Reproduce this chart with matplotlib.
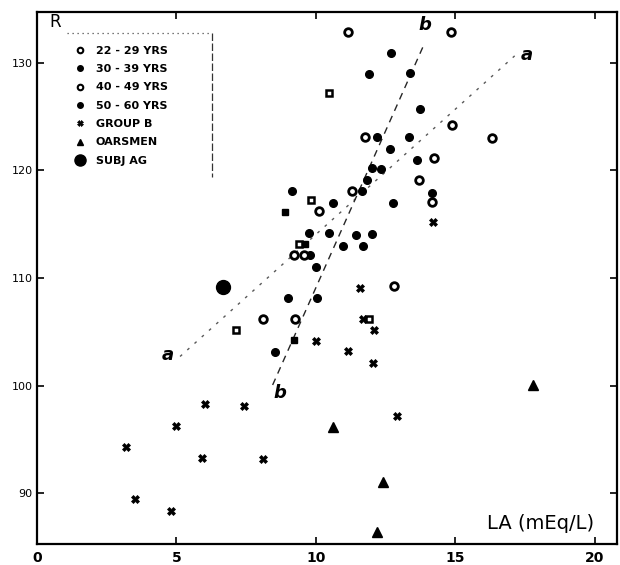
import matplotlib
matplotlib.use("Agg")
import matplotlib.pyplot as plt
from matplotlib.lines import Line2D

# values (LA in mEq/L, R)
age22_x = [10.48, 9.82, 9.40, 11.91, 7.12]
age22_y = [127.2, 117.3, 113.2, 106.2, 105.2]

age30_x = [12.71, 11.91, 13.37, 13.75, 12.18, 13.34, 12.65, 13.63, 12.00, 12.35,
           11.82, 14.15, 9.13, 11.64, 10.62, 12.75, 9.75, 10.47, 11.43, 12.03,
           10.98, 11.70, 9.78, 10.00, 9.01, 10.03, 8.54]
age30_y = [130.9, 129.0, 129.1, 125.7, 123.1, 123.1, 122.0, 121.0, 120.2, 120.1,
           119.1, 117.9, 118.1, 118.1, 117.0, 117.0, 114.2, 114.2, 114.0, 114.1,
           113.0, 113.0, 112.1, 111.05, 108.1, 108.1, 103.1]

age40_x = [11.16, 14.83, 14.90, 16.30, 11.76, 14.23, 13.70, 11.28, 10.11, 9.21,
           9.57, 12.82, 8.09, 9.27, 14.16]
age40_y = [132.9, 132.9, 124.2, 123.05, 123.1, 121.2, 119.1, 118.1, 116.2, 112.1,
           112.1, 109.3, 106.2, 106.2, 117.1]

age50_x = [8.91, 9.61, 9.21]
age50_y = [116.1, 113.2, 104.2]

groupb_x = [11.58, 11.70, 12.09, 10.00, 11.16, 12.05, 6.02, 7.43, 12.91, 4.98,
            3.19, 5.90, 8.11, 3.51, 4.79, 14.19]
groupb_y = [109.1, 106.2, 105.2, 104.1, 103.2, 102.1, 98.3, 98.1, 97.2, 96.2,
            94.3, 93.3, 93.2, 89.4, 88.3, 115.2]

oars_x = [10.60, 12.41, 12.21, 17.77]
oars_y = [96.1, 91.05, 86.35, 100.05]

subj_x = [6.67]
subj_y = [109.2]

# the two regression lines
line_a_x = [5.13, 17.13]
line_a_y = [102.7, 130.66]
line_b_x = [8.45, 13.91]
line_b_y = [100.05, 131.9]

legend_labels = ["22 - 29 YRS", "30 - 39 YRS", "40 - 49 YRS", "50 - 60 YRS",
                 "GROUP B", "OARSMEN", "SUBJ AG"]

fig = plt.figure(figsize=(6.2, 5.65), dpi=100)
ax = fig.add_axes([37/620, 1-544/565, 580/620, 532/565])

# marker styles for each group
ring = dict(marker='o', ms=5.5, mfc='white', mec='black', mew=2.0, ls='none')
dot = dict(marker='o', ms=5.5, mfc='black', mec='black', ls='none')
opensq = dict(marker='s', ms=5.0, mfc='white', mec='black', mew=1.8, ls='none')
sq = dict(marker='s', ms=5.0, mfc='black', mec='black', ls='none')
cross = dict(marker='X', ms=6.0, mfc='black', mec='black', mew=0.5, ls='none')
tri = dict(marker='^', ms=6.5, mfc='black', mec='black', ls='none')
big = dict(marker='o', ms=10, mfc='black', mec='black', ls='none')

ax.plot(line_a_x, line_a_y, color='0.35', lw=1.0, ls=(0, (2, 5)))
ax.plot(line_b_x, line_b_y, color='0.15', lw=1.0, ls=(0, (5, 4)))

ax.plot(age22_x, age22_y, **opensq)
ax.plot(age30_x, age30_y, **dot)
ax.plot(age40_x, age40_y, **ring)
ax.plot(age50_x, age50_y, **sq)
ax.plot(groupb_x, groupb_y, **cross)
ax.plot(oars_x, oars_y, **tri)
ax.plot(subj_x, subj_y, **big)

# line letters
lab = dict(fontsize=13, fontweight='bold', fontstyle='italic', ha='center', va='center')
ax.text(4.70, 102.8, 'a', **lab)
ax.text(17.56, 130.7, 'a', **lab)
ax.text(8.71, 99.3, 'b', **lab)
ax.text(13.91, 133.5, 'b', **lab)

ax.text(0.65, 133.8, 'R', fontsize=12, ha='center', va='center')
ax.text(18.06, 87.2, 'LA (mEq/L)', fontsize=14, ha='center', va='center')

ax.set_xlim(0, 20.8)
ax.set_ylim(85.26, 134.74)
ax.set_xticks([0, 5, 10, 15, 20])
ax.set_yticks([90, 100, 110, 120, 130])
ax.tick_params(direction='in', top=True, right=True, length=5, width=1.2)
ax.tick_params(axis='x', labelsize=10, pad=5)
ax.tick_params(axis='y', labelsize=8, pad=3)
for t in ax.get_xticklabels():
    t.set_fontweight('bold')
for s in ax.spines.values():
    s.set_linewidth(1.6)

# legend box (only top and right edges are visible in the scan)
ax.plot([(67-37)/27.9, (212-37)/27.9], [130+30/10.75, 130+30/10.75],
        color='0.3', lw=0.9, ls=(0, (1, 3)))
ax.plot([(212-37)/27.9, (212-37)/27.9], [130+30/10.75, 130-114/10.75],
        color='0.2', lw=0.9, ls=(0, (6, 2)))

handles = [Line2D([], [], **dict(ring, ms=4, mew=1.5)),
           Line2D([], [], **dict(dot, ms=4)),
           Line2D([], [], **dict(ring, ms=4, mew=1.5)),
           Line2D([], [], **dict(dot, ms=4)),
           Line2D([], [], **dict(cross, ms=4)),
           Line2D([], [], **dict(tri, ms=4.5)),
           Line2D([], [], **dict(big, ms=8))]
ax.legend(handles, legend_labels, loc='upper left', bbox_to_anchor=(0.057, 0.947),
          frameon=False, borderpad=0, handlelength=0.8, handletextpad=1.0,
          labelspacing=0.75, prop=dict(size=8, weight='bold'))

fig.savefig('out.png', dpi=100)
